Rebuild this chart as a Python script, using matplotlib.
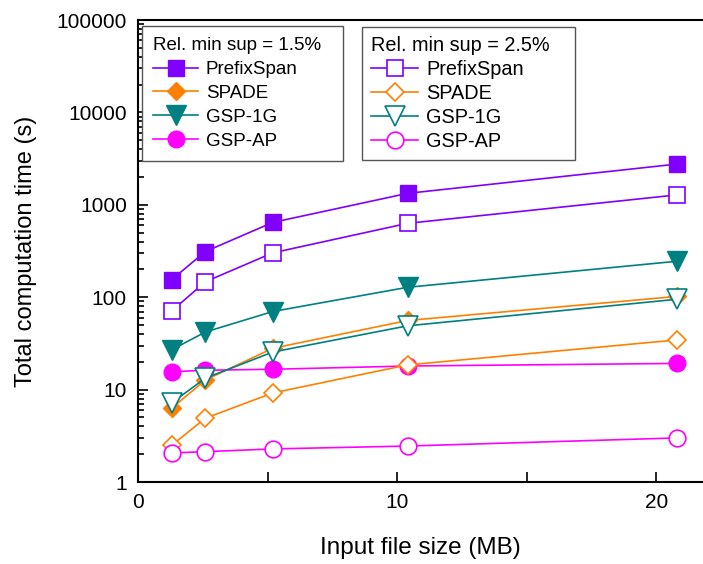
import matplotlib
matplotlib.use("Agg")
import matplotlib.pyplot as plt
from matplotlib.ticker import FixedLocator, FuncFormatter, LogLocator, NullFormatter

plt.rcParams['font.family'] = ['Liberation Sans', 'DejaVu Sans']

# data
sizes = [1.3, 2.6, 5.2, 10.4, 20.8]

prefixspan_15 = [155, 312, 645, 1330, 2760]
spade_15 = [6.3, 12.7, 28, 56, 102]
gsp1g_15 = [27, 42, 70, 128, 245]
gspap_15 = [15.6, 16.2, 16.6, 18, 19.2]

prefixspan_25 = [71, 147, 302, 630, 1280]
spade_25 = [2.5, 4.9, 9.2, 18.5, 34.5]
gsp1g_25 = [7.2, 13.3, 25.5, 49, 95]
gspap_25 = [2.06, 2.13, 2.28, 2.45, 3.0]

names = ["PrefixSpan", "SPADE", "GSP-1G", "GSP-AP"]
colors = ["#7F00FF", "#FF8000", "#008080", "#FF00FF"]
markers = ["s", "D", "v", "o"]
msizes = [11, 9, 15, 12]

fig = plt.figure(figsize=(7.03, 5.64), dpi=100)
ax = fig.add_axes([138/703, 82/564, 1 - 138/703, 462/564])

series15 = [prefixspan_15, spade_15, gsp1g_15, gspap_15]
series25 = [prefixspan_25, spade_25, gsp1g_25, gspap_25]

h15 = []
for name, ys, c, m, ms in zip(names, series15, colors, markers, msizes):
    l, = ax.plot(sizes, ys, color=c, marker=m, ms=ms, lw=1.2,
                 markerfacecolor=c, markeredgecolor=c, label=name)
    h15.append(l)

h25 = []
for name, ys, c, m, ms in zip(names, series25, colors, markers, msizes):
    l, = ax.plot(sizes, ys, color=c, marker=m, ms=ms, lw=1.2,
                 markerfacecolor="white", markeredgecolor=c, mew=1.2, label=name)
    h25.append(l)

ax.set_yscale("log")
ax.set_ylim(1, 100000)
ax.set_xlim(0, 21.8)

ax.xaxis.set_major_locator(FixedLocator([0, 10, 20]))
ax.xaxis.set_minor_locator(FixedLocator([5, 15]))
ax.yaxis.set_major_locator(LogLocator(base=10, numticks=10))
ax.yaxis.set_minor_locator(LogLocator(base=10, subs=range(2, 10), numticks=20))
ax.yaxis.set_major_formatter(FuncFormatter(lambda v, p: "%d" % round(v)))
ax.yaxis.set_minor_formatter(NullFormatter())

ax.tick_params(axis="both", which="both", direction="in", labelsize=15, width=1.2)
ax.tick_params(axis="both", which="major", length=7, pad=8)
ax.tick_params(axis="both", which="minor", length=4)
ax.tick_params(axis="x", which="minor", length=7)

for s in ["left", "bottom", "top"]:
    ax.spines[s].set_linewidth(1.5)
ax.spines["right"].set_visible(False)

ax.set_xlabel("Input file size (MB)", fontsize=17.5, labelpad=18)
ax.set_ylabel("Total computation time (s)", fontsize=17, labelpad=14)

leg_kw = dict(loc="upper left", fancybox=False, alignment="left",
              edgecolor="#555555", framealpha=1, handlelength=2.4,
              handletextpad=0.4, borderaxespad=0)
leg1 = ax.legend(handles=h15, title="Rel. min sup = 1.5%  ",
                 fontsize=13.5, title_fontsize=13.5,
                 labelspacing=0.36, borderpad=0.6,
                 bbox_to_anchor=(0.007, 0.987), **leg_kw)
ax.add_artist(leg1)
leg2 = ax.legend(handles=h25, title="Rel. min sup = 2.5%   ",
                 fontsize=14.3, title_fontsize=14.3,
                 labelspacing=0.25, borderpad=0.45,
                 bbox_to_anchor=(0.396, 0.985), **leg_kw)
for lg in (leg1, leg2):
    lg.get_frame().set_linewidth(1.0)

fig.savefig("out.png", dpi=100)
